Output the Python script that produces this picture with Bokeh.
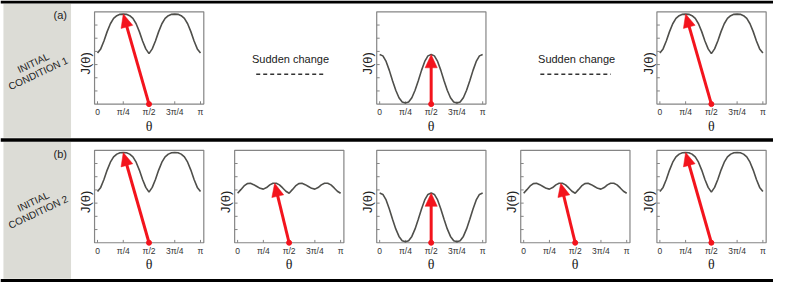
import numpy as np
from bokeh.plotting import figure
from bokeh.models import Range1d
from bokeh.core.properties import value
from bokeh.embed import file_html
from bokeh.resources import INLINE

PI = np.pi

# ---------------- data ----------------
# J(theta) sampled at theta = k*pi/32, k = 0..32
theta = np.linspace(0, PI, 33)
J_wide = [3.88, 4.19, 4.79, 5.50, 6.10, 6.50, 6.71, 6.81, 6.83, 6.81, 6.71, 6.50, 6.10, 5.50, 4.79, 4.19, 3.83,
          4.19, 4.79, 5.50, 6.10, 6.50, 6.71, 6.81, 6.83, 6.81, 6.71, 6.50, 6.10, 5.50, 4.79, 4.19, 3.88]
J_cos = [3.76, 3.66, 3.24, 2.56, 1.78, 1.05, 0.48, 0.16, 0.08, 0.16, 0.48, 1.05, 1.78, 2.56, 3.24, 3.66, 3.76,
         3.66, 3.24, 2.56, 1.78, 1.05, 0.48, 0.16, 0.08, 0.16, 0.48, 1.05, 1.78, 2.56, 3.24, 3.66, 3.76]
J_wiggle = [3.75, 4.02, 4.30, 4.48, 4.50, 4.40, 4.26, 4.12, 4.06, 4.18, 4.38, 4.50, 4.50, 4.38, 4.15, 3.90, 3.75,
            4.02, 4.30, 4.48, 4.50, 4.40, 4.26, 4.12, 4.06, 4.18, 4.38, 4.50, 4.50, 4.38, 4.15, 3.90, 3.75]
curves = {"wide": J_wide, "cos": J_cos, "wiggle": J_wiggle}

# arrow tips (theta, J); arrows start at (pi/2, 0)
arrow_tip_theta = {"wide": PI / 4, "cos": PI / 2, "wiggle": 11.5 * PI / 32}
arrow_tip_J = {"wide": 6.83, "cos": 3.76, "wiggle": 4.50}
arrow_base = (PI / 2, 0.0)

x_ticks = [0, PI / 4, PI / 2, 3 * PI / 4, PI]
x_tick_labels = ["0", "π/4", "π/2", "3π/4", "π"]
y_ticks = [1, 2, 3, 4, 5, 6]

row_panels = [["wide", None, "cos", None, "wide"],
              ["wide", "wiggle", "cos", "wiggle", "wide"]]
row_tags = ["(a)", "(b)"]
row_conditions = ["INITIAL\nCONDITION 1", "INITIAL\nCONDITION 2"]
transition_text = "Sudden change"

# ---------------- layout (reference pixel space 789 x 298) ----------------
W, H = 789, 298
panel_left = [96, 239, 384, 531, 670]
panel_w = 111.5
row_frame = [(12.0, 109.5), (158.3, 256.0)]   # (top, bottom)
XS = (-0.09, PI + 0.10)
YS = (0.0, 7.0)

RED = "#f3141d"
CURVE = "#4f4f4b"
FRAME = "#858585"
GREY_BG = "#dcdcd6"
FONT = value("Liberation Sans")

p = figure(width=773, height=282, x_range=Range1d(0, W), y_range=Range1d(H, 0),
           x_axis_location=None, y_axis_location=None, output_backend="svg",
           toolbar_location=None, min_border=0)
p.grid.visible = False
p.outline_line_color = None
p.background_fill_color = "white"

# grey label strips and black separators
p.quad(left=[3, 3], right=[72, 72], top=[3.5, 149.5], bottom=[145.0, 294.0],
       fill_color=GREY_BG, line_color=None)
p.quad(left=[0, 0, 0], right=[W, W, W], top=[0, 145.5, 294.3], bottom=[3.3, 149.2, 298],
       fill_color="black", line_color=None)

for r in range(2):
    top, bot = row_frame[r]
    p.text(x=[61], y=[top + 3.5], text=[row_tags[r]], text_font=FONT, text_font_size="11px",
           text_align="center", text_baseline="middle", text_color="#222222")
    p.text(x=[36], y=[bot - 38], text=[row_conditions[r]], text_font=FONT, text_font_size="10px",
           text_align="center", text_baseline="middle", angle=0.44, text_color="#222222",
           text_line_height=1.05)

# "Sudden change" labels between panels of row (a)
for xc, x0, x1 in [(296, 261, 331), (588, 551, 623)]:
    p.text(x=[xc], y=[62], text=[transition_text], text_font=FONT, text_font_size="11px",
           text_align="center", text_baseline="middle", text_color="#1a1a1a")
    p.segment(x0=[x0], y0=[78], x1=[x1], y1=[78], line_color="#333333", line_width=1.4,
              line_dash="4 3")

# ---------------- panels ----------------
for r in range(2):
    top, bot = row_frame[r]
    for c, kind in enumerate(row_panels[r]):
        if kind is None:
            continue
        L = panel_left[c]
        sub = p.subplot(x_source=Range1d(*XS), y_source=Range1d(*YS),
                        x_target=Range1d(L, L + panel_w), y_target=Range1d(bot, top))
        pxx = panel_w / (XS[1] - XS[0])      # px per radian
        pxy = (bot - top) / (YS[1] - YS[0])  # px per J unit

        # frame
        sub.quad(left=[XS[0]], right=[XS[1]], bottom=[YS[0]], top=[YS[1]],
                 fill_color=None, line_color=FRAME, line_width=1.2)
        # inward ticks
        sub.segment(x0=x_ticks, y0=[0] * 5, x1=x_ticks, y1=[3 / pxy] * 5,
                    line_color=FRAME, line_width=1)
        sub.segment(x0=[XS[0]] * 6, y0=y_ticks, x1=[XS[0] + 3 / pxx] * 6, y1=y_ticks,
                    line_color=FRAME, line_width=1)
        # tick labels
        sub.text(x=x_ticks, y=[-8.5 / pxy] * 5, text=x_tick_labels, text_font=FONT,
                 text_font_size="8.5px", text_align="center", text_baseline="middle",
                 text_color="#333333")
        sub.text(x=[PI / 2], y=[-23.5 / pxy], text=["θ"], text_font=value("Liberation Serif"),
                 text_font_size="14px", text_align="center", text_baseline="middle",
                 text_color="#222222")
        sub.text(x=[XS[0] - 9 / pxx], y=[3.1], text=["J(θ)"], text_font=FONT,
                 text_font_size="13px", text_align="center", text_baseline="middle",
                 angle=PI / 2, text_color="#222222")

        # curve
        sub.line(x=theta, y=curves[kind], line_color=CURVE, line_width=1.6)

        # arrow from base to tip
        bx, by = arrow_base
        tx, ty = arrow_tip_theta[kind], arrow_tip_J[kind]
        dx, dy = (tx - bx) * pxx, (ty - by) * pxy
        length = np.hypot(dx, dy)
        ux, uy = dx / length, dy / length
        hl, hw = 14.0, 6.2
        hcx, hcy = dx - ux * hl, dy - uy * hl
        nx, ny = -uy, ux
        head_x = [bx + dx / pxx, bx + (hcx + nx * hw) / pxx, bx + (hcx - nx * hw) / pxx]
        head_y = [by + dy / pxy, by + (hcy + ny * hw) / pxy, by + (hcy - ny * hw) / pxy]
        sub.segment(x0=[bx], y0=[by], x1=[bx + (hcx + ux * 2) / pxx], y1=[by + (hcy + uy * 2) / pxy],
                    line_color=RED, line_width=3)
        sub.patch(x=head_x, y=head_y, fill_color=RED, line_color=RED, line_width=0.5)
        sub.scatter(x=[bx], y=[by], size=5, fill_color=RED, line_color=RED)

open("out.html", "w").write(file_html(p, INLINE))
